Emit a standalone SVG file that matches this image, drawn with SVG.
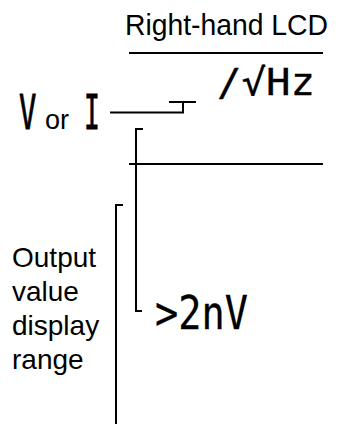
<svg xmlns="http://www.w3.org/2000/svg" width="340" height="425" viewBox="0 0 340 425">
<style>
.ln{stroke:#000;stroke-width:2;fill:none}
.sans{font-family:"Liberation Sans",Arial,sans-serif;fill:#000}
.cond{font-family:"DejaVu Sans Mono","Liberation Mono",monospace;fill:#000;stroke:#000;stroke-width:0.3}
.big{font-family:"DejaVu Sans Mono","Liberation Mono",monospace;fill:#000;stroke:#000;stroke-width:0.9}
</style>
<rect width="340" height="425" fill="#fff"/>
<g id="title">
<text class="sans" x="125" y="35" font-size="29" textLength="203" lengthAdjust="spacingAndGlyphs">Right-hand LCD</text>
</g>
<g id="unit">
<text class="cond" x="217" y="95" font-size="37" textLength="98" lengthAdjust="spacingAndGlyphs">/√Hz</text>
</g>
<g id="vori">
<text class="big" transform="translate(19,129) scale(0.6,1)" font-size="48">V</text>
<text class="sans" x="45" y="129" font-size="27">or</text>
<text class="big" transform="translate(84,129) scale(0.55,1)" font-size="48">I</text>
</g>
<g id="value">
<text class="cond" x="155" y="329" font-size="47" textLength="93" lengthAdjust="spacingAndGlyphs">&gt;2nV</text>
</g>
<g id="range-label">
<text class="sans" x="12" y="267" font-size="28">Output</text>
<text class="sans" x="12" y="301" font-size="28">value</text>
<text class="sans" x="12" y="335" font-size="28">display</text>
<text class="sans" x="12" y="369" font-size="28">range</text>
</g>
<g id="connectors">
<line class="ln" x1="129" y1="53" x2="323" y2="53"/>
<polyline class="ln" points="110,112.5 183,112.5 183,102"/>
<line class="ln" x1="169" y1="102" x2="196" y2="102"/>
<polyline class="ln" points="143,129 136,129 136,311 142,311"/>
<line class="ln" x1="129" y1="164" x2="323" y2="164"/>
<polyline class="ln" points="123,205 116,205 116,424"/>
</g>
</svg>
